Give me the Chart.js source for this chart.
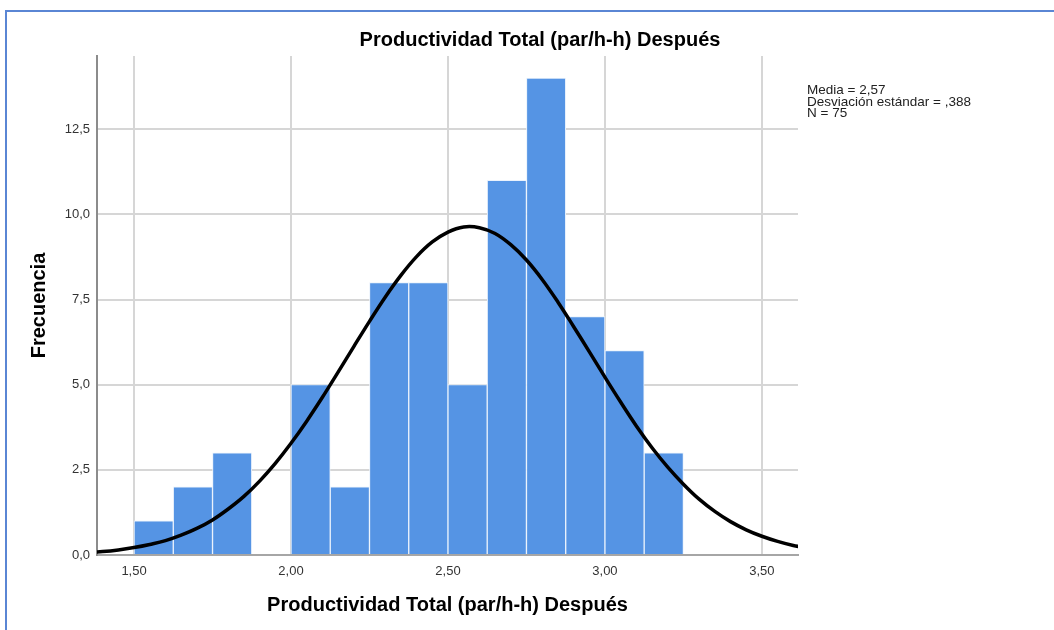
<!DOCTYPE html>
<html>
<head>
<meta charset="utf-8">
<script src="https://cdn.jsdelivr.net/npm/chart.js@4.4.1/dist/chart.umd.min.js"></script>
<style>
    html, body { margin: 0; padding: 0; background: #fff; }
    #wrap { position: relative; width: 1054px; height: 630px; overflow: hidden; }
    #frame {
        position: absolute; left: 5px; top: 10px; width: 1060px; height: 640px;
        border-top: 2px solid #5a86d4; border-left: 2px solid #5a86d4;
        box-sizing: border-box; pointer-events: none;
    }
    canvas { position: absolute; left: 0; top: 0; }
</style>
</head>
<body>
<div id="wrap">
    <canvas id="histChart" width="1054" height="630"></canvas>
    <div id="frame"></div>
</div>
<script>
// ==========================================
// DATA
// ==========================================
const binCenters = [1.5625, 1.6875, 1.8125, 1.9375, 2.0625, 2.1875, 2.3125, 2.4375, 2.5625, 2.6875, 2.8125, 2.9375, 3.0625, 3.1875];
const binCounts  = [1, 2, 3, 0, 5, 2, 8, 8, 5, 11, 14, 7, 6, 3];

// normal curve
const curveX = [1.35, 1.40, 1.45, 1.50, 1.55, 1.60, 1.65, 1.70, 1.75, 1.80, 1.85, 1.90, 1.95, 2.00, 2.05, 2.10, 2.15, 2.20, 2.25, 2.30, 2.35, 2.40, 2.45, 2.50, 2.55, 2.60, 2.65, 2.70, 2.75, 2.80, 2.85, 2.90, 2.95, 3.00, 3.05, 3.10, 3.15, 3.20, 3.25, 3.30, 3.35, 3.40, 3.45, 3.50, 3.55, 3.60, 3.65];
const curveY = [0.07, 0.10, 0.15, 0.22, 0.31, 0.42, 0.58, 0.78, 1.03, 1.35, 1.72, 2.17, 2.69, 3.28, 3.93, 4.63, 5.37, 6.12, 6.86, 7.57, 8.21, 8.76, 9.19, 9.48, 9.63, 9.61, 9.44, 9.11, 8.66, 8.09, 7.43, 6.71, 5.97, 5.22, 4.49, 3.79, 3.15, 2.58, 2.08, 1.64, 1.28, 0.98, 0.74, 0.55, 0.40, 0.28, 0.20];

const xTicks = [1.50, 2.00, 2.50, 3.00, 3.50];
const yTicks = [0, 2.5, 5.0, 7.5, 10.0, 12.5];
const statLines = ['Media = 2,57', 'Desviación estándar = ,388', 'N = 75'];

const chartTitle = 'Productividad Total (par/h-h) Después';
const xTitle = 'Productividad Total (par/h-h) Después';
const yTitle = 'Frecuencia';

const FONT = '"Liberation Sans", Arial, sans-serif';

// ==========================================
// EXTRA TEXT (title + stats box)
// ==========================================
const textPlugin = {
    id: 'spssText',
    afterDraw(chart) {
        const ctx = chart.ctx;
        ctx.save();
        ctx.fillStyle = '#000';
        ctx.font = 'bold 20px ' + FONT;
        ctx.textAlign = 'center';
        ctx.textBaseline = 'alphabetic';
        ctx.fillText(chartTitle, 540, 46);

        ctx.font = '13.5px ' + FONT;
        ctx.fillStyle = '#222';
        ctx.textAlign = 'left';
        statLines.forEach((t, i) => ctx.fillText(t, 807, 94 + i * 11.7));
        ctx.restore();
    }
};

const fmt = (v, d) => v.toFixed(d).replace('.', ',');

const ctx = document.getElementById('histChart').getContext('2d');
new Chart(ctx, {
    type: 'bar',
    data: {
        datasets: [
            {
                type: 'line',
                data: curveX.map((x, i) => ({ x: x, y: curveY[i] })),
                borderColor: '#000',
                borderWidth: 3.5,
                pointRadius: 0,
                tension: 0.4,
                fill: false,
                order: 0
            },
            {
                type: 'bar',
                data: binCenters.map((x, i) => ({ x: x, y: binCounts[i] })),
                backgroundColor: '#5594e4',
                borderColor: '#eaf2fc',
                borderWidth: 1,
                barPercentage: 1,
                categoryPercentage: 1,
                order: 1
            }
        ]
    },
    options: {
        responsive: false,
        animation: false,
        layout: { padding: { left: 7, top: 56, right: 256, bottom: 0 } },
        plugins: {
            legend: { display: false },
            tooltip: { enabled: false }
        },
        scales: {
            x: {
                type: 'linear',
                min: 1.382,
                max: 3.615,
                offset: false,
                afterFit: (s) => { s.height = 75; },
                afterBuildTicks: (s) => { s.ticks = xTicks.map(v => ({ value: v })); },
                grid: { color: '#d6d6d6', lineWidth: 2, drawTicks: false, offset: false },
                border: { display: true, color: '#a6a6a6', width: 2 },
                ticks: {
                    padding: 9,
                    color: '#333',
                    font: { family: FONT, size: 13 },
                    callback: (v) => fmt(v, 2)
                },
                title: {
                    display: true,
                    text: xTitle,
                    color: '#000',
                    font: { family: FONT, size: 20, weight: 'bold' },
                    padding: { top: 0, bottom: 13 }
                }
            },
            y: {
                min: 0,
                max: 14.65,
                afterFit: (s) => { s.width = 90; },
                afterBuildTicks: (s) => { s.ticks = yTicks.map(v => ({ value: v })); },
                grid: { color: '#d6d6d6', lineWidth: 2, drawTicks: false },
                border: { display: true, color: '#8c8c8c', width: 2 },
                ticks: {
                    padding: 7,
                    color: '#333',
                    font: { family: FONT, size: 13 },
                    callback: (v) => fmt(v, 1)
                },
                title: {
                    display: true,
                    text: yTitle,
                    color: '#000',
                    font: { family: FONT, size: 20, weight: 'bold' },
                    padding: { top: 20, bottom: 0 }
                }
            }
        }
    },
    plugins: [textPlugin]
});
</script>
</body>
</html>
